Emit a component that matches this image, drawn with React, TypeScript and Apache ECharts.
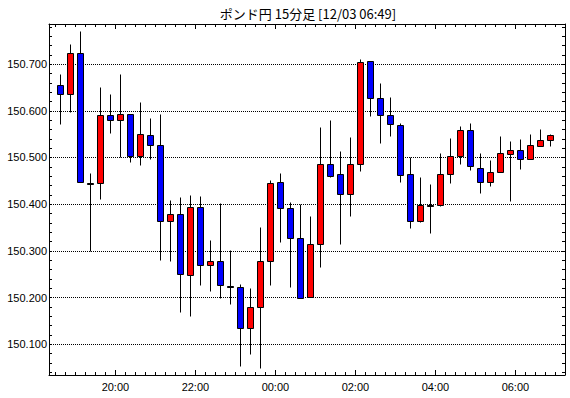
import React, { useEffect, useRef } from 'react';
import * as echarts from 'echarts';

const TITLE = 'ポンド円 15分足 [12/03 06:49]';

// 15-minute candle start times
const times = [
  '18:30', '18:45', '19:00', '19:15', '19:30', '19:45',
  '20:00', '20:15', '20:30', '20:45', '21:00', '21:15', '21:30', '21:45',
  '22:00', '22:15', '22:30', '22:45', '23:00', '23:15', '23:30', '23:45',
  '00:00', '00:15', '00:30', '00:45', '01:00', '01:15', '01:30', '01:45',
  '02:00', '02:15', '02:30', '02:45', '03:00', '03:15', '03:30', '03:45',
  '04:00', '04:15', '04:30', '04:45', '05:00', '05:15', '05:30', '05:45',
  '06:00', '06:15', '06:30', '06:45',
];

const opens = [
  150.655, 150.637, 150.724, 150.446, 150.445, 150.591, 150.580, 150.593, 150.504, 150.548,
  150.526, 150.364, 150.379, 150.248, 150.394, 150.269, 150.278, 150.225, 150.222, 150.134,
  150.179, 150.279, 150.447, 150.391, 150.327, 150.202, 150.314, 150.486, 150.464, 150.421,
  150.486, 150.706, 150.627, 150.591, 150.569, 150.464, 150.363, 150.398, 150.398, 150.464,
  150.503, 150.559, 150.477, 150.448, 150.469, 150.508, 150.516, 150.496, 150.524, 150.537,
];
const closes = [
  150.637, 150.724, 150.448, 150.446, 150.591, 150.580, 150.593, 150.504, 150.550, 150.526,
  150.364, 150.379, 150.250, 150.394, 150.269, 150.278, 150.226, 150.225, 150.134, 150.179,
  150.279, 150.445, 150.391, 150.327, 150.199, 150.315, 150.486, 150.461, 150.421, 150.486,
  150.704, 150.627, 150.591, 150.571, 150.462, 150.364, 150.398, 150.398, 150.464, 150.503,
  150.559, 150.481, 150.448, 150.469, 150.509, 150.516, 150.496, 150.526, 150.537, 150.548,
];
const lows = [
  150.571, 150.598, 150.448, 150.300, 150.411, 150.553, 150.501, 150.491, 150.483, 150.496,
  150.281, 150.278, 150.168, 150.161, 150.227, 150.213, 150.198, 150.187, 150.054, 150.078,
  150.048, 150.226, 150.320, 150.223, 150.199, 150.202, 150.266, 150.459, 150.314, 150.375,
  150.470, 150.588, 150.530, 150.547, 150.448, 150.350, 150.361, 150.339, 150.396, 150.446,
  150.485, 150.474, 150.423, 150.439, 150.468, 150.406, 150.476, 150.496, 150.524, 150.524,
];
const highs = [
  150.679, 150.743, 150.771, 150.467, 150.651, 150.636, 150.679, 150.593, 150.619, 150.585,
  150.593, 150.408, 150.416, 150.420, 150.417, 150.324, 150.403, 150.302, 150.229, 150.221,
  150.352, 150.452, 150.467, 150.404, 150.401, 150.375, 150.566, 150.581, 150.514, 150.544,
  150.711, 150.707, 150.660, 150.630, 150.574, 150.501, 150.459, 150.444, 150.510, 150.542,
  150.567, 150.574, 150.510, 150.495, 150.546, 150.536, 150.540, 150.551, 150.561, 150.551,
];

// axis ranges (x in hours after 18:00)
const X_MIN = 0.34;
const X_MAX = 13.24;
const Y_MIN = 150.034;
const Y_MAX = 150.786;

function toHours(t: string): number {
  const [h, m] = t.split(':').map(Number);
  return ((h - 18 + 24) % 24) + m / 60;
}
const pad = (n: number) => (n < 10 ? '0' + n : '' + n);

export default function App() {
  const ref = useRef<HTMLDivElement>(null);
  useEffect(() => {
    if (!ref.current) return;
    const chart = echarts.init(ref.current, null, { renderer: 'svg' });
    const data = times.map((t, i) => [toHours(t) + 0.125, opens[i], closes[i], lows[i], highs[i]]);
    const font = '"Liberation Sans", Arial, sans-serif';
    const black = '#000000';

    const xBase = (pos: 'top' | 'bottom', showLabel: boolean) => ({
      type: 'value',
      position: pos,
      min: X_MIN,
      max: X_MAX,
      splitNumber: 6,
      axisLine: { show: true, onZero: false, lineStyle: { color: black, width: 1 } },
      axisTick: { show: true, inside: true, length: 5, lineStyle: { color: black, width: 1 } },
      minorTick: { show: true, splitNumber: 8, length: 3, lineStyle: { color: black, width: 1 } },
      splitLine: { show: false },
      axisLabel: {
        show: showLabel,
        showMinLabel: false,
        showMaxLabel: false,
        margin: 6,
        color: black,
        fontSize: 11,
        fontFamily: font,
        formatter: (v: number) => pad((18 + Math.round(v)) % 24) + ':00',
      },
    });

    const yBase = (pos: 'left' | 'right', main: boolean) => ({
      type: 'value',
      position: pos,
      min: Y_MIN,
      max: Y_MAX,
      splitNumber: 7,
      scale: true,
      axisLine: { show: true, onZero: false, lineStyle: { color: black, width: 1 } },
      axisTick: { show: true, inside: true, length: 3, lineStyle: { color: black, width: 1 } },
      minorTick: { show: true, splitNumber: 5, length: 3, lineStyle: { color: black, width: 1 } },
      splitLine: {
        show: main,
        showMinLine: false,
        showMaxLine: false,
        lineStyle: { color: black, width: 1, type: [1, 1] },
      },
      axisLabel: {
        show: main,
        showMinLabel: false,
        showMaxLabel: false,
        margin: 2,
        color: black,
        fontSize: 11,
        fontFamily: font,
        formatter: (v: number) => v.toFixed(3),
      },
    });

    chart.setOption({
      animation: false,
      backgroundColor: '#ffffff',
      grid: { left: 49, top: 24, right: 5, bottom: 23, containLabel: false },
      xAxis: [xBase('bottom', true), xBase('top', false)],
      yAxis: [yBase('left', true), yBase('right', false)],
      graphic: [
        {
          type: 'text',
          x: 308,
          y: 13,
          style: {
            text: TITLE,
            fill: black,
            font: '13px "Noto Sans CJK JP", sans-serif',
            textAlign: 'center',
            textVerticalAlign: 'middle',
          },
        },
      ],
      series: [
        {
          type: 'custom',
          xAxisIndex: 0,
          yAxisIndex: 0,
          data,
          encode: { x: 0, y: [1, 2, 3, 4] },
          renderItem: (_params: any, api: any) => {
            const x = api.value(0);
            const o = api.value(1);
            const c = api.value(2);
            const l = api.value(3);
            const h = api.value(4);
            const pO = api.coord([x, o]);
            const pC = api.coord([x, c]);
            const pL = api.coord([x, l]);
            const pH = api.coord([x, h]);
            const snap = (v: number) => Math.round(v) + 0.5;
            const cx = Math.floor(pO[0]) + 0.5;
            const top = snap(Math.min(pO[1], pC[1]));
            const bot = snap(Math.max(pO[1], pC[1]));
            const fill = c > o ? '#ff0000' : c < o ? '#0000ff' : black;
            return {
              type: 'group',
              children: [
                {
                  type: 'line',
                  shape: { x1: cx, y1: snap(pH[1]), x2: cx, y2: snap(pL[1]) },
                  style: { stroke: black, lineWidth: 1 },
                },
                {
                  type: 'rect',
                  shape: { x: cx - 3, y: top, width: 6, height: Math.max(bot - top, 1) },
                  style: { fill, stroke: black, lineWidth: 1 },
                },
              ],
            };
          },
        },
      ],
    });
    return () => chart.dispose();
  }, []);
  return (
    <div
      ref={ref}
      style={{ position: 'fixed', left: 0, top: 0, width: 570, height: 398, background: '#fff' }}
    />
  );
}
